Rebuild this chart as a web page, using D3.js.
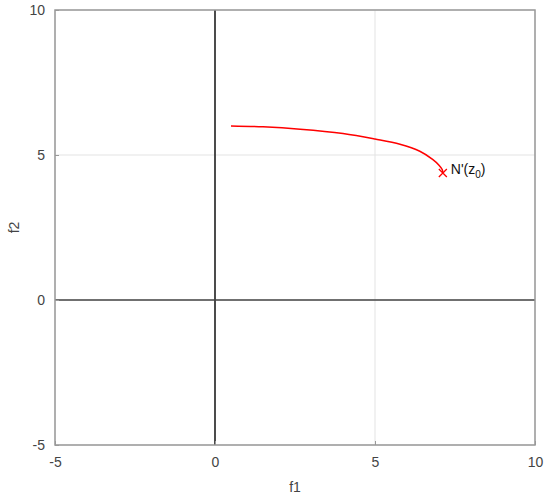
<!DOCTYPE html>
<html><head><meta charset="utf-8">
<script src="https://cdn.jsdelivr.net/npm/d3@7"></script>
<style>body{margin:0;background:#fff}svg{display:block}text{font-family:"Liberation Sans",Arial,sans-serif}</style>
</head><body><svg id="c" width="550" height="500"></svg>
<script>
const xTicks = [-5, 0, 5, 10];
const yTicks = [-5, 0, 5, 10];
const curveF1 = [0.5, 1.5, 2.66, 4.0, 5.0, 5.78, 6.4, 6.8, 7.0, 7.1, 7.12];
const curveF2 = [6.0, 5.97, 5.89, 5.74, 5.55, 5.37, 5.13, 4.85, 4.65, 4.5, 4.38];
const markerPt = [7.12, 4.38];

const svg = d3.select("#c");
const L = 55, R = 535, T = 10, B = 445;
const x = d3.scaleLinear().domain([-5, 10]).range([L, R]);
const y = d3.scaleLinear().domain([-5, 10]).range([B, T]);
const fmt = d => String(d);

// grid
svg.append("g").selectAll("line").data(xTicks).join("line")
  .attr("x1", d => x(d)).attr("x2", d => x(d)).attr("y1", T).attr("y2", B)
  .attr("stroke", "#e3e3e3").attr("stroke-width", 1);
svg.append("g").selectAll("line").data(yTicks).join("line")
  .attr("y1", d => y(d)).attr("y2", d => y(d)).attr("x1", L).attr("x2", R)
  .attr("stroke", "#e3e3e3").attr("stroke-width", 1);

// zero axes
svg.append("line").attr("x1", x(0)).attr("x2", x(0)).attr("y1", T).attr("y2", B)
  .attr("stroke", "#222").attr("stroke-width", 1.6);
svg.append("line").attr("y1", y(0)).attr("y2", y(0)).attr("x1", L).attr("x2", R)
  .attr("stroke", "#444").attr("stroke-width", 1.6);

// axes
const xa = svg.append("g").attr("transform", `translate(0,${B})`)
  .call(d3.axisBottom(x).tickValues(xTicks).tickFormat(fmt).tickSize(-4).tickPadding(12));
const ya = svg.append("g").attr("transform", `translate(${L},0)`)
  .call(d3.axisLeft(y).tickValues(yTicks).tickFormat(fmt).tickSize(-4).tickPadding(10));
[xa, ya].forEach(a => {
  a.select(".domain").remove();
  a.selectAll("line").attr("stroke", "#999");
  a.selectAll("text").attr("fill", "#444").style("font-size", "14px");
});
// box
svg.append("rect").attr("x", L).attr("y", T).attr("width", R - L).attr("height", B - T)
  .attr("fill", "none").attr("stroke", "#999").attr("stroke-width", 1.5);

// curve
const pts = curveF1.map((v, i) => [v, curveF2[i]]);
svg.append("path").datum(pts)
  .attr("d", d3.line().x(d => x(d[0])).y(d => y(d[1])).curve(d3.curveCatmullRom))
  .attr("fill", "none").attr("stroke", "#ff0000").attr("stroke-width", 1.5);

// marker
const mx = x(markerPt[0]), my = y(markerPt[1]), s = 4;
svg.append("path").attr("d", `M${mx - s},${my - s}L${mx + s},${my + s}M${mx - s},${my + s}L${mx + s},${my - s}`)
  .attr("stroke", "#ff0000").attr("stroke-width", 1.3);
const lbl = svg.append("text").attr("x", mx + 8).attr("y", my + 1).style("font-size", "14px").attr("fill", "#111");
lbl.append("tspan").text("N'(z");
lbl.append("tspan").text("0").attr("dy", 4).style("font-size", "10px");
lbl.append("tspan").text(")").attr("dy", -4);

// axis labels
svg.append("text").attr("x", (L + R) / 2).attr("y", 492).attr("text-anchor", "middle")
  .style("font-size", "14px").attr("fill", "#444").text("f1");
svg.append("text").attr("transform", `translate(19,${(T + B) / 2}) rotate(-90)`).attr("text-anchor", "middle")
  .style("font-size", "14px").attr("fill", "#444").text("f2");
</script></body></html>
